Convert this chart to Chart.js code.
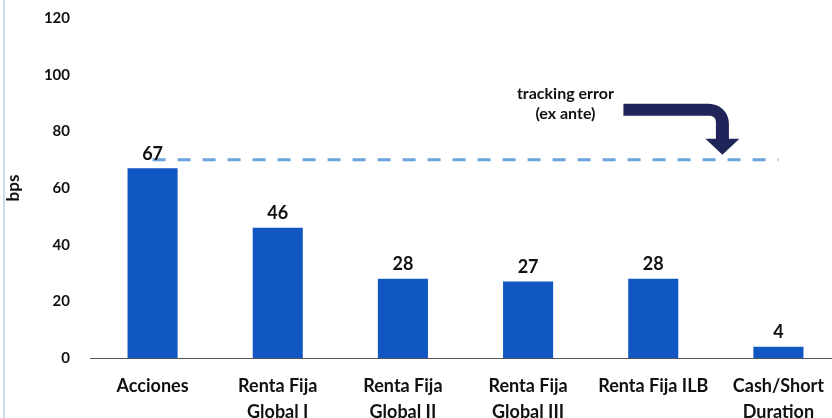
<!DOCTYPE html>
<html>
<head>
<meta charset="utf-8">
<script src="https://cdn.jsdelivr.net/npm/chart.js@4.4.0/dist/chart.umd.min.js"></script>
<style>
  html, body { margin: 0; padding: 0; background: #fff; overflow: hidden; }
  #wrap { position: relative; width: 832px; height: 418px; overflow: hidden; }
  #edge { position: absolute; left: 3px; top: 0; width: 2px; height: 418px; background: #d3dcea; z-index: 1; }
  canvas { position: absolute; left: 0; top: -11px; }
</style>
</head>
<body>
<div id="wrap">
  <div id="edge"></div>
  <canvas id="chart" width="842" height="429"></canvas>
</div>
<script>
// categorías y valores (bps)
const categories = [
    'Acciones',
    ['Renta Fija', 'Global I'],
    ['Renta Fija', 'Global II'],
    ['Renta Fija', 'Global III'],
    'Renta Fija ILB',
    ['Cash/Short', 'Duration']
];
const contribution = [67, 46, 28, 27, 28, 4];
const trackingError = [70, 70, 70, 70, 70, 70];
const yTicks = [0, 20, 40, 60, 80, 100, 120];

const fontFamily = 'Lato, "Open Sans", sans-serif';

// etiquetas encima de las barras + flecha
const overlay = {
    id: 'overlay',
    afterDatasetsDraw(chart) {
        const ctx = chart.ctx;
        const meta = chart.getDatasetMeta(0);
        ctx.save();
        ctx.font = 'bold 18px ' + fontFamily;
        ctx.fillStyle = '#111';
        ctx.textAlign = 'center';
        ctx.textBaseline = 'bottom';
        meta.data.forEach((bar, i) => {
            ctx.fillText(contribution[i], bar.x, bar.y - 5);
        });
        ctx.restore();
    },
    afterDraw(chart) {
        const ctx = chart.ctx;
        const x = chart.scales.x;
        const y = chart.scales.y;
        const tipY = y.getPixelForValue(70) - 5;
        const cx = x.getPixelForValue(5) - 56;
        ctx.save();
        // texto
        ctx.font = 'bold 16px ' + fontFamily;
        ctx.fillStyle = '#111';
        ctx.textAlign = 'center';
        ctx.textBaseline = 'middle';
        ctx.fillText('tracking error', cx - 157, tipY - 61);
        ctx.fillText('(ex ante)', cx - 157, tipY - 41);
        // flecha
        const top = tipY - 51, th = 12, half = 6.5;
        ctx.fillStyle = '#1f2558';
        ctx.beginPath();
        ctx.moveTo(cx - 99, top);
        ctx.lineTo(cx - 14, top);
        ctx.arcTo(cx + half, top, cx + half, top + 20, 20);
        ctx.lineTo(cx + half, tipY - 16);
        ctx.lineTo(cx + 17, tipY - 16);
        ctx.lineTo(cx, tipY);
        ctx.lineTo(cx - 17, tipY - 16);
        ctx.lineTo(cx - half, tipY - 16);
        ctx.lineTo(cx - half, top + th + 6);
        ctx.arcTo(cx - half, top + th, cx - 12, top + th, 6);
        ctx.lineTo(cx - 99, top + th);
        ctx.closePath();
        ctx.fill();
        ctx.restore();
    }
};

new Chart(document.getElementById('chart').getContext('2d'), {
    type: 'bar',
    data: {
        labels: categories,
        datasets: [{
            type: 'bar',
            data: contribution,
            backgroundColor: '#1157c4',
            categoryPercentage: 1,
            barPercentage: 0.4,
            order: 2
        }, {
            type: 'line',
            data: trackingError,
            borderColor: '#6aa3dc',
            borderWidth: 3,
            borderDash: [13, 12],
            pointRadius: 0,
            fill: false,
            order: 1
        }]
    },
    options: {
        responsive: false,
        animation: false,
        layout: { padding: { top: 6, right: 1, left: 0, bottom: 0 } },
        plugins: {
            legend: { display: false },
            tooltip: { enabled: false }
        },
        scales: {
            x: {
                grid: { display: false, drawTicks: false },
                border: { display: true, color: '#555', width: 1 },
                ticks: {
                    color: '#111',
                    padding: 16,
                    maxRotation: 0,
                    autoSkip: false,
                    font: { family: fontFamily, size: 18, weight: 'bold', lineHeight: 1.4 }
                },
                afterFit(scale) { scale.height = 60; }
            },
            y: {
                min: 0,
                max: 120,
                grid: { display: false, drawTicks: false },
                border: { display: false },
                afterBuildTicks(scale) { scale.ticks = yTicks.map(v => ({ value: v })); },
                ticks: {
                    color: '#111',
                    padding: 20,
                    font: { family: fontFamily, size: 15, weight: 'bold' }
                },
                title: {
                    display: true,
                    text: 'bps',
                    color: '#111',
                    padding: { top: 3, bottom: 0 },
                    font: { family: fontFamily, size: 17, weight: 'bold' }
                },
                afterFit(scale) { scale.width = 90; }
            }
        }
    },
    plugins: [overlay]
});
</script>
</body>
</html>
